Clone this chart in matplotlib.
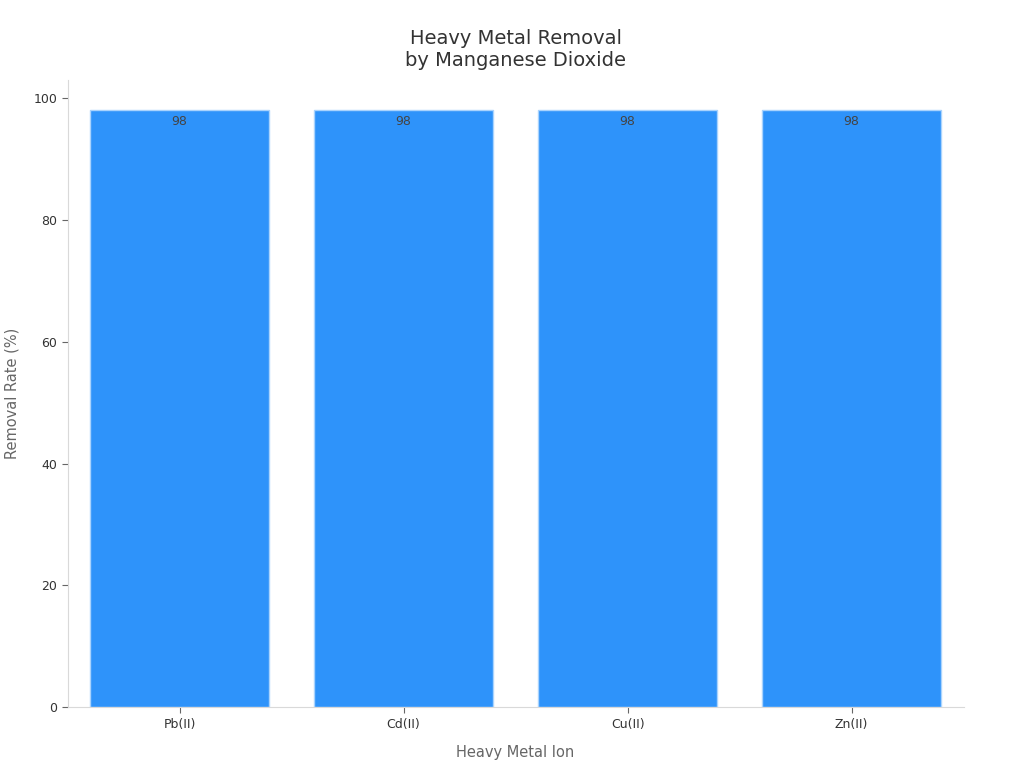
import numpy as np
import matplotlib.pyplot as plt

ions = ['Pb(II)', 'Cd(II)', 'Cu(II)', 'Zn(II)']
removal = [98, 98, 98, 98]

BAR_COLOR = '#2e93fa'
TEXT_COLOR = '#333333'

fig, ax = plt.subplots(figsize=(10.24, 7.68), dpi=100)
fig.subplots_adjust(left=0.066, right=0.941, bottom=0.079, top=0.896)

x = np.arange(len(ions))
bars = ax.bar(x, removal, width=0.8, color=BAR_COLOR, edgecolor='#a9d3fd', linewidth=1)

for rect, v in zip(bars, removal):
    ax.text(rect.get_x() + rect.get_width() / 2, v - 0.8, f'{v}',
            ha='center', va='top', fontsize=9, color='#444444')

ax.set_xlim(-0.5, len(ions) - 0.5)
ax.set_ylim(0, 103)
ax.set_xticks(x)
ax.set_xticklabels(ions)
ax.set_yticks([0, 20, 40, 60, 80, 100])
ax.tick_params(axis='both', labelsize=9, colors='#666666', labelcolor=TEXT_COLOR, length=4)

for side in ['top', 'right']:
    ax.spines[side].set_visible(False)
for side in ['left', 'bottom']:
    ax.spines[side].set_color('#d9d9d9')

ax.set_xlabel('Heavy Metal Ion', fontsize=10.5, color='#666666', labelpad=10)
ax.set_ylabel('Removal Rate (%)', fontsize=10.5, color='#666666', labelpad=10)
ax.set_title('Heavy Metal Removal\nby Manganese Dioxide', fontsize=14, color=TEXT_COLOR, pad=10)

fig.savefig('out.png', dpi=100)
